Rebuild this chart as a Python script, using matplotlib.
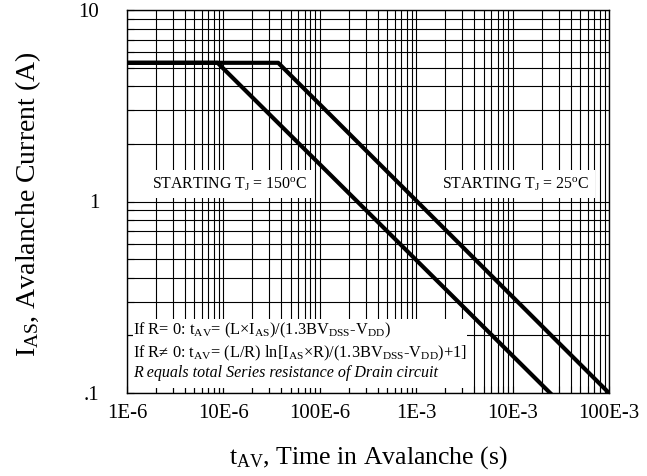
import matplotlib
matplotlib.use("Agg")
import matplotlib.pyplot as plt
from matplotlib.patches import Rectangle
from matplotlib.ticker import NullFormatter

plt.rcParams['font.family'] = ['Liberation Serif', 'DejaVu Serif']
plt.rcParams['mathtext.default'] = 'regular'

# avalanche curves (time in s, current in A)
t_150 = [1e-6, 8.7e-6, 2.45e-2]
i_150 = [5.3, 5.3, 0.1]
t_25 = [1e-6, 3.7e-5, 1e-1]
i_25 = [5.3, 5.3, 0.1]

xticks = [1e-6, 1e-5, 1e-4, 1e-3, 1e-2, 1e-1]
xticklabels = ["1E-6", "10E-6", "100E-6", "1E-3", "10E-3", "100E-3"]
yticks = [0.1, 1, 10]
yticklabels = [".1", "1", "10"]

fig = plt.figure(figsize=(6.47, 4.76), dpi=100)
ax = fig.add_axes([127/647, 1-393/476, 482/647, 383/476])
ax.set_xscale('log')
ax.set_yscale('log')
ax.set_xlim(1e-6, 1e-1)
ax.set_ylim(0.1, 10)

ax.plot(t_150, i_150, color='black', lw=3, zorder=5)
ax.plot(t_25, i_25, color='black', lw=3, zorder=5)

ax.set_xticks(xticks)
ax.set_xticklabels(xticklabels)
ax.set_yticks(yticks)
ax.set_yticklabels(yticklabels)
ax.xaxis.set_minor_formatter(NullFormatter())
ax.yaxis.set_minor_formatter(NullFormatter())
ax.tick_params(which='both', direction='in', length=5, width=0.8, labelsize=15)
ax.tick_params(axis='x', pad=8)
ax.tick_params(axis='y', pad=20)
ax.grid(which='both', color='black', lw=0.8)
ax.set_axisbelow(True)
for s in ax.spines.values():
    s.set_linewidth(1.0)

# white boxes behind the notes
box = dict(facecolor='white', edgecolor='none', pad=4)
ax.text(0.214, 0.546, "STARTING T$_J$ = 150$^o$C", transform=ax.transAxes,
        ha='center', va='center', fontsize=11.4, bbox=box, zorder=3)
ax.text(0.807, 0.546, "STARTING T$_J$ = 25$^o$C", transform=ax.transAxes,
        ha='center', va='center', fontsize=11.4, bbox=box, zorder=3)

ax.add_patch(Rectangle((0.012, 0.013), 0.693, 0.18, transform=ax.transAxes,
                       facecolor='white', edgecolor='none', zorder=2))
ax.text(0.012, 0.164, "If R= 0: t$_{AV}$= (L\u00d7I$_{AS}$)/(1.3BV$_{DSS}$-V$_{DD}$)",
        transform=ax.transAxes, ha='left', va='center', fontsize=11.8, zorder=3)
ax.text(0.012, 0.104, "If R\u2260 0: t$_{AV}$= (L/R) ln[I$_{AS}$\u00d7R)/(1.3BV$_{DSS}$-V$_{DD}$)+1]",
        transform=ax.transAxes, ha='left', va='center', fontsize=11.8, zorder=3)
ax.text(0.012, 0.052, "R equals total Series resistance of Drain circuit",
        transform=ax.transAxes, ha='left', va='center', fontsize=11.5,
        style='italic', zorder=3)

fig.text(0.569, 1-458/476, "t$_{AV}$, Time in Avalanche (s)", ha='center', va='center', fontsize=18.5)
fig.text(28/647, 1-204/476, "I$_{AS}$, Avalanche Current (A)", ha='center', va='center',
         rotation=90, fontsize=20)

fig.savefig("out.png", dpi=100)
